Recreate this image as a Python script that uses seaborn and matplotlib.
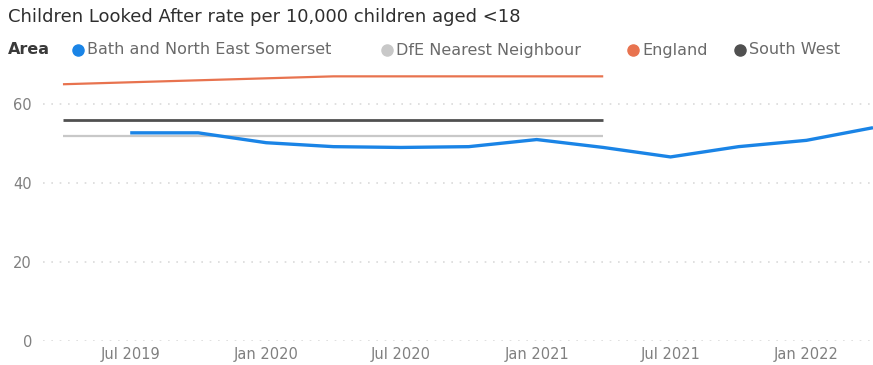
import pandas as pd
import matplotlib
matplotlib.use("Agg")
import matplotlib.pyplot as plt
from matplotlib.lines import Line2D
import seaborn as sns

# Quarterly rate for the local authority
bath_dates = ["2019-07-01", "2019-10-01", "2020-01-01", "2020-04-01", "2020-07-01",
              "2020-10-01", "2021-01-01", "2021-04-01", "2021-07-01", "2021-10-01",
              "2022-01-01", "2022-04-01"]
bath_values = [52.7, 52.7, 50.2, 49.2, 49.0, 49.2, 51.0, 49.0, 46.6, 49.2, 50.8, 54.0]

# Annual comparator rates
comparator_dates = ["2019-04-01", "2020-04-01", "2021-04-01"]
dfe_values = [52, 52, 52]
england_values = [65, 67, 67]
south_west_values = [56, 56, 56]

areas = ["Bath and North East Somerset", "DfE Nearest Neighbour", "England", "South West"]
colors = ["#1A84E6", "#C8C8C8", "#E8734F", "#505050"]
widths = [2.4, 1.6, 1.6, 2.0]

tick_dates = ["2019-07-01", "2020-01-01", "2020-07-01", "2021-01-01", "2021-07-01", "2022-01-01"]
tick_labels = ["Jul 2019", "Jan 2020", "Jul 2020", "Jan 2021", "Jul 2021", "Jan 2022"]
y_ticks = [0, 20, 40, 60]

title = "Children Looked After rate per 10,000 children aged <18"

frames = [pd.DataFrame({"date": pd.to_datetime(bath_dates), "rate": bath_values, "Area": areas[0]})]
for name, vals in zip(areas[1:], [dfe_values, england_values, south_west_values]):
    frames.append(pd.DataFrame({"date": pd.to_datetime(comparator_dates), "rate": vals, "Area": name}))
df = pd.concat(frames, ignore_index=True)

sns.set_theme(style="white")
plt.rcParams["font.family"] = ["DejaVu Sans"]

W, H = 873, 365
fig = plt.figure(figsize=(W / 100, H / 100), dpi=100)
ax = fig.add_axes([43 / W, (H - 341) / H, (W - 43) / W, (341 - 64.5) / H])

# draw comparators first so the local line sits on top
for name, col, lw in list(zip(areas, colors, widths))[::-1]:
    sns.lineplot(data=df[df["Area"] == name], x="date", y="rate", color=col,
                 linewidth=lw, ax=ax, legend=False, solid_capstyle="butt")

ax.set_ylim(0, 70)
ax.set_xlim(pd.Timestamp("2019-03-05"), pd.Timestamp("2022-04-01"))
ax.set_yticks(y_ticks)
ax.set_yticklabels([str(v) for v in y_ticks])
ax.set_xticks(pd.to_datetime(tick_dates))
ax.set_xticklabels(tick_labels)
ax.set_xlabel("")
ax.set_ylabel("")
for s in ax.spines.values():
    s.set_visible(False)
ax.tick_params(axis="both", length=0, labelsize=10.5, colors="#808080")
ax.tick_params(axis="y", pad=8)
ax.tick_params(axis="x", pad=4)
for y in y_ticks:
    ax.axhline(y, color="#DADADA", linewidth=1.2, linestyle=(0, (1, 4)), zorder=0)

fig.text(8 / W, 1 - 17 / H, title, fontsize=13, color="#2E2E2E", va="center", ha="left")

legend_y = 1 - 50 / H
fig.text(8 / W, legend_y, "Area", fontsize=11.5, fontweight="bold", color="#3A3A3A",
         va="center", ha="left")
marker_x = [78, 387, 633, 740]
for name, col, mx in zip(areas, colors, marker_x):
    fig.add_artist(Line2D([mx / W], [legend_y], marker="o", markersize=8, color=col,
                          linestyle="none", transform=fig.transFigure))
    fig.text((mx + 9) / W, legend_y, name, fontsize=11.5, color="#6A6A6A",
             va="center", ha="left")

fig.savefig("out.png", dpi=100)
